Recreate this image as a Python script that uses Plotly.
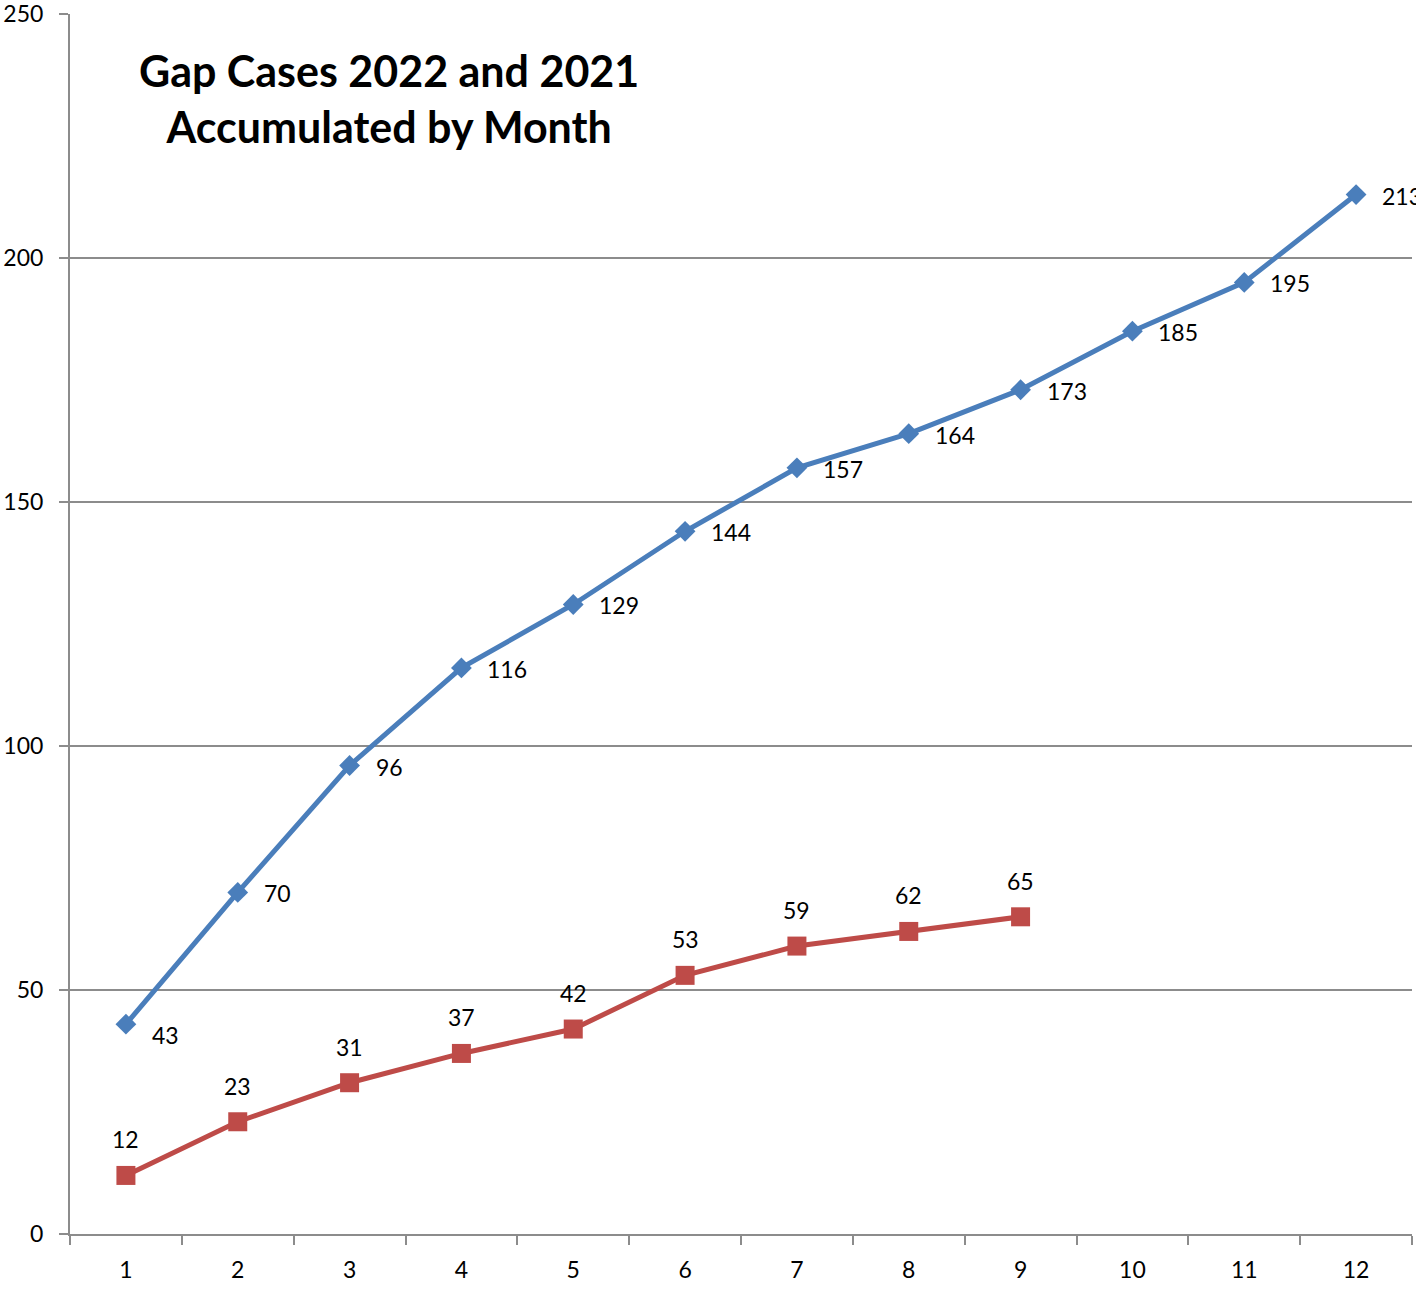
import plotly.graph_objects as go

months = ["1", "2", "3", "4", "5", "6", "7", "8", "9", "10", "11", "12"]
cases_2022 = [43, 70, 96, 116, 129, 144, 157, 164, 173, 185, 195, 213]
cases_2021 = [12, 23, 31, 37, 42, 53, 59, 62, 65]
title_lines = ["Gap Cases 2022 and 2021", "Accumulated by Month"]

BLUE = "#4A7EBB"
RED = "#BE4B48"
GRID = "#8C8C8C"
FONT = "Lato, 'Open Sans', sans-serif"

fig = go.Figure()
fig.add_trace(go.Scatter(
    x=months, y=cases_2022, mode="lines+markers", name="2022",
    line=dict(color=BLUE, width=5),
    marker=dict(symbol="diamond", size=16, color=BLUE),
    cliponaxis=False,
))
fig.add_trace(go.Scatter(
    x=months[:len(cases_2021)], y=cases_2021, mode="lines+markers", name="2021",
    line=dict(color=RED, width=5),
    marker=dict(symbol="square", size=19, color=RED),
    cliponaxis=False,
))

annotations = []
for i, v in enumerate(cases_2022):
    annotations.append(dict(
        x=i, y=v, xref="x", yref="y", text=str(v), showarrow=False,
        xanchor="left", yanchor="middle", xshift=24, yshift=-11 if i == 0 else -1,
        font=dict(family=FONT, size=23, color="black"),
    ))
for i, v in enumerate(cases_2021):
    annotations.append(dict(
        x=i, y=v, xref="x", yref="y", text=str(v), showarrow=False,
        xanchor="center", yanchor="middle", yshift=36,
        font=dict(family=FONT, size=23, color="black"),
    ))
annotations.append(dict(
    x=0.238, y=0.9305, xref="paper", yref="paper", showarrow=False,
    text="<b>" + "<br>".join(title_lines) + "</b>",
    xanchor="center", yanchor="middle", align="center",
    font=dict(family=FONT, size=43, color="black"),
))

fig.update_layout(
    width=1416, height=1291,
    margin=dict(l=70, r=4, t=14, b=57, autoexpand=False),
    paper_bgcolor="white", plot_bgcolor="white",
    showlegend=False,
    annotations=annotations,
    font=dict(family=FONT, size=23, color="black"),
    xaxis=dict(
        type="category", tickson="boundaries", ticks="outside", ticklen=9,
        tickwidth=2, tickcolor=GRID, showline=True, linecolor=GRID, linewidth=2,
        showgrid=False, ticklabelstandoff=14, range=[-0.5, 11.5], automargin=False,
        tickfont=dict(family=FONT, size=23, color="black"),
    ),
    yaxis=dict(
        range=[0, 250], tickvals=[0, 50, 100, 150, 200, 250], ticks="outside",
        ticklen=9, tickwidth=2, tickcolor=GRID, showline=True, linecolor=GRID,
        linewidth=2, showgrid=True, gridcolor=GRID, gridwidth=2, zeroline=False,
        ticklabelstandoff=11, ticklabeloverflow="allow", automargin=False,
        tickfont=dict(family=FONT, size=23, color="black"),
    ),
)

fig.write_html("out.html", config={"displayModeBar": False},
               post_script="document.body.style.margin='0';")
